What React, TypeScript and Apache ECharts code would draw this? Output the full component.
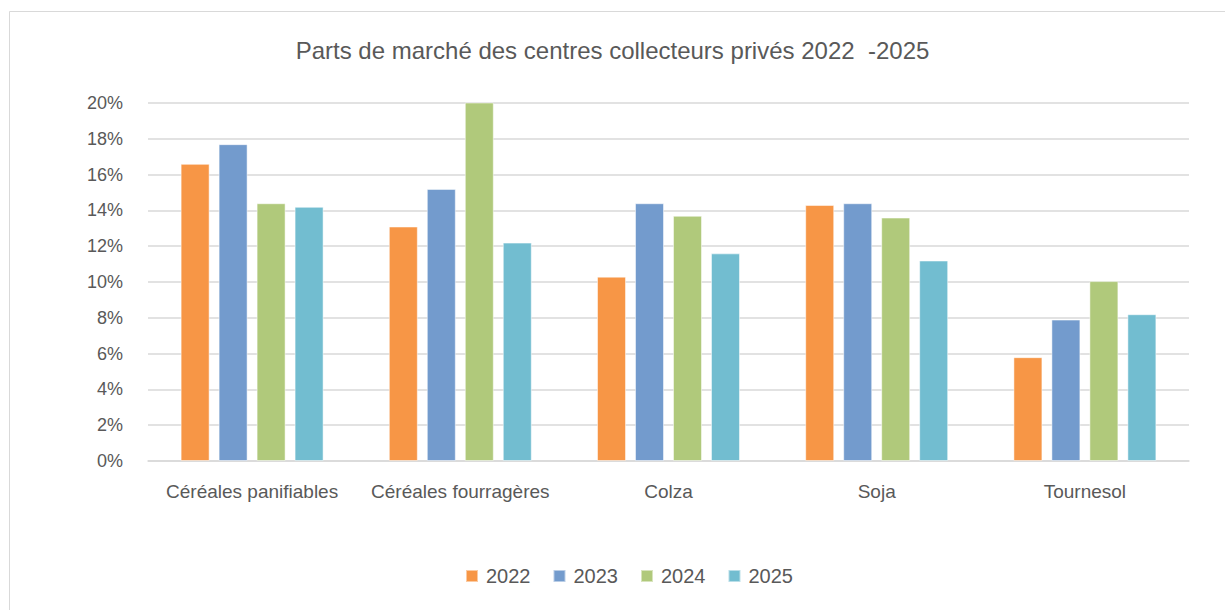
import React, { useEffect, useRef } from "react";
import * as echarts from "echarts";

const categories = ["Céréales panifiables", "Céréales fourragères", "Colza", "Soja", "Tournesol"];
const years = ["2022", "2023", "2024", "2025"];
const values2022 = [16.6, 13.1, 10.3, 14.3, 5.8];
const values2023 = [17.7, 15.2, 14.4, 14.4, 7.9];
const values2024 = [14.4, 20.2, 13.7, 13.6, 10.05];
const values2025 = [14.2, 12.2, 11.6, 11.2, 8.2];
const colors = ["#F79646", "#739BCD", "#B0C97B", "#72BDD0"];

export default function App() {
  const ref = useRef<HTMLDivElement>(null);
  useEffect(() => {
    document.body.style.margin = "0";
    const chart = echarts.init(ref.current!, null, { renderer: "svg" });
    const seriesData = [values2022, values2023, values2024, values2025];
    const font = "'Liberation Sans', sans-serif";
    chart.setOption({
      animation: false,
      backgroundColor: "#ffffff",
      title: {
        text: "Parts de marché des centres collecteurs privés 2022  -2025",
        left: "center",
        top: 33,
        textStyle: { color: "#595959", fontSize: 24, fontWeight: "normal", fontFamily: font },
      },
      graphic: [
        {
          type: "rect",
          shape: { x: 9.5, y: 11.5, width: 1240, height: 620 },
          style: { fill: "none", stroke: "#d9d9d9", lineWidth: 1 },
          silent: true,
        },
      ],
      legend: {
        data: years,
        bottom: 19,
        left: 460,
        itemWidth: 12,
        itemHeight: 12,
        itemGap: 22,
        icon: "rect",
        textStyle: { color: "#595959", fontSize: 20, fontFamily: font, padding: [0, 0, 0, 3] },
      },
      grid: { left: 148, right: 36, top: 103, bottom: 149, containLabel: false },
      xAxis: {
        type: "category",
        data: categories,
        axisTick: { show: false },
        axisLine: { lineStyle: { color: "#d9d9d9", width: 1.5 } },
        axisLabel: { color: "#595959", fontSize: 19, margin: 21, fontFamily: font, interval: 0 },
      },
      yAxis: {
        type: "value",
        min: 0,
        max: 20,
        interval: 2,
        axisLine: { show: false },
        axisTick: { show: false },
        splitLine: { lineStyle: { color: "#d9d9d9", width: 1.5 } },
        axisLabel: { color: "#595959", fontSize: 18, margin: 25, fontFamily: font, formatter: "{value}%" },
      },
      series: years.map((y, i) => ({
        name: y,
        type: "bar",
        data: seriesData[i],
        barWidth: 29,
        barGap: "31%",
        itemStyle: { color: colors[i], borderColor: "rgba(255,255,255,0.5)", borderWidth: 1 },
      })),
    });
    return () => chart.dispose();
  }, []);
  return <div ref={ref} style={{ width: 1225, height: 610 }} />;
}
